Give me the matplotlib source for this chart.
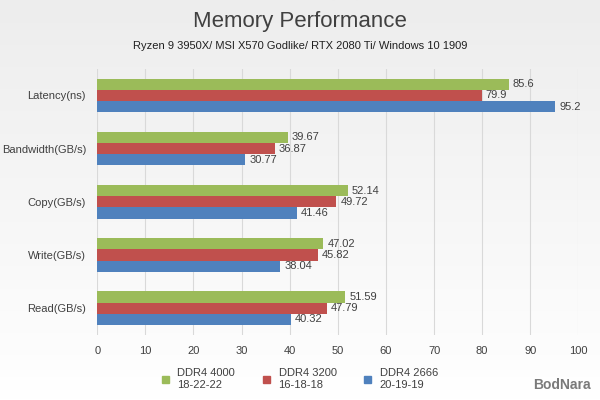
import matplotlib.pyplot as plt
import numpy as np

plt.rcParams['font.family'] = ['Liberation Sans', 'DejaVu Sans']

categories = ["Latency(ns)", "Bandwidth(GB/s)", "Copy(GB/s)", "Write(GB/s)", "Read(GB/s)"]
series_names = ["DDR4 4000\n18-22-22", "DDR4 3200\n16-18-18", "DDR4 2666\n20-19-19"]
ddr4000 = [85.6, 39.67, 52.14, 47.02, 51.59]
ddr3200 = [79.9, 36.87, 49.72, 45.82, 47.79]
ddr2666 = [95.2, 30.77, 41.46, 38.04, 40.32]
labels_4000 = ["85.6", "39.67", "52.14", "47.02", "51.59"]
labels_3200 = ["79.9", "36.87", "49.72", "45.82", "47.79"]
labels_2666 = ["95.2", "30.77", "41.46", "38.04", "40.32"]
colors = ["#9BBB59", "#C0504D", "#4F81BD"]

fig = plt.figure(figsize=(6, 4), dpi=100)
bg = fig.add_axes([0, 0, 1, 1], zorder=-10)
grad = np.linspace(1, 0, 256).reshape(-1, 1)
bg.imshow(grad, aspect='auto', cmap=plt.matplotlib.colors.LinearSegmentedColormap.from_list('g', ['#FFFFFF', '#EDEDED']), extent=[0, 1, 0, 1])
bg.axis('off')

ax = fig.add_axes([0.162, 0.163, 0.802, 0.665])
ax.patch.set_alpha(0)
y = np.arange(len(categories))
h = 0.21
for vals, labs, c, off in [(ddr4000, labels_4000, colors[0], -h), (ddr3200, labels_3200, colors[1], 0), (ddr2666, labels_2666, colors[2], h)]:
    bars = ax.barh(y + off, vals, height=h, color=c, zorder=3)
    for b, l in zip(bars, labs):
        ax.text(b.get_width() + 0.8, b.get_y() + b.get_height() / 2, l, va='center', ha='left', fontsize=8, color='#404040')
ax.set_yticks(y)
ax.set_yticklabels(categories, fontsize=8, color='#404040')
ax.set_ylim(4.5, -0.5)
ax.set_xlim(0, 100)
ax.set_xticks(range(0, 101, 10))
ax.tick_params(axis='x', labelsize=8, colors='#404040', length=0, pad=8)
ax.tick_params(axis='y', length=0, pad=8)
ax.grid(axis='x', color='#D9D9D9', lw=0.8, zorder=0)
for s in ax.spines.values():
    s.set_visible(False)

handles = [plt.Rectangle((0, 0), 1, 1, color=c) for c in colors]
fig.legend(handles, series_names, loc='lower center', bbox_to_anchor=(0.5, 0.0), ncol=3, frameon=False,
           fontsize=8, handlelength=0.6, handleheight=0.6, columnspacing=2.5, labelcolor='#404040')
fig.text(0.5, 0.945, "Memory Performance", ha='center', va='center', fontsize=16, color='#404040')
fig.text(0.5, 0.885, "Ryzen 9 3950X/ MSI X570 Godlike/ RTX 2080 Ti/ Windows 10 1909", ha='center', va='center', fontsize=8, color='#202020')
fig.text(0.985, 0.02, "BodNara", ha='right', va='bottom', fontsize=10, color='#7A7A7A', fontweight='bold')
fig.savefig("out.png", dpi=100)
